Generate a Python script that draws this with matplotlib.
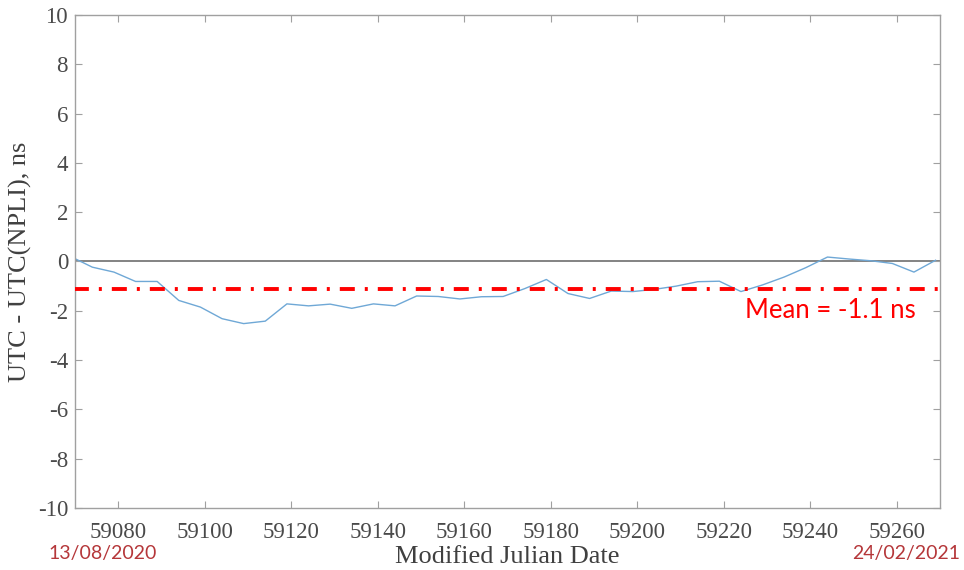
import matplotlib
matplotlib.use("Agg")
import matplotlib.pyplot as plt

plt.rcParams["axes.unicode_minus"] = False
plt.rcParams["font.family"] = ["Liberation Serif", "DejaVu Serif"]

# UTC - UTC(NPLI) from Circular T, ns
mjd = [59069, 59074, 59079, 59084, 59089, 59094, 59099, 59104, 59109, 59114,
       59119, 59124, 59129, 59134, 59139, 59144, 59149, 59154, 59159, 59164,
       59169, 59174, 59179, 59184, 59189, 59194, 59199, 59204, 59209, 59214,
       59219, 59224, 59229, 59234, 59239, 59244, 59249, 59254, 59259, 59264,
       59269]
offset = [0.2, -0.23, -0.43, -0.81, -0.81, -1.58, -1.85, -2.32, -2.52, -2.42,
          -1.72, -1.8, -1.73, -1.9, -1.72, -1.8, -1.4, -1.42, -1.52, -1.43,
          -1.42, -1.1, -0.73, -1.3, -1.5, -1.2, -1.22, -1.13, -1.0, -0.82,
          -0.8, -1.22, -0.95, -0.63, -0.25, 0.18, 0.1, 0.03, -0.08, -0.43,
          0.05]
mean_value = -1.1
xticks = list(range(59080, 59261, 20))
yticks = list(range(-10, 11, 2))
start_date = "13/08/2020"
end_date = "24/02/2021"

fig = plt.figure(figsize=(9.64, 5.70), dpi=100)
ax = fig.add_axes([0.0778, 0.1088, 0.8972, 0.8649])

ax.axhline(0, color="#6e6e6e", lw=1.2, zorder=1)
ax.plot(mjd, offset, color="#6fa8d6", lw=1.0, zorder=2)
ax.axhline(mean_value, color="#ff0000", lw=2.8, linestyle=(0.3, (3.86, 2.57, 0.77, 2.57)), zorder=3)

ax.set_xlim(59070, 59270)
ax.set_ylim(-10, 10)
serif = "Liberation Serif"
ax.set_xticks(xticks, [str(t) for t in xticks], fontfamily=serif, fontsize=16.5)
ax.set_yticks(yticks, [str(t) for t in yticks], fontfamily=serif, fontsize=16.5)

ax.tick_params(direction="in", top=True, right=True, length=5, color="#a0a0a0",
               labelcolor="#4a4a4a")
ax.tick_params(axis="x", pad=10)
ax.tick_params(axis="y", pad=5)
for s in ax.spines.values():
    s.set_color("#a0a0a0")
    s.set_linewidth(1.0)

ax.set_xlabel("Modified Julian Date", fontfamily=serif, fontsize=19, color="#404040", labelpad=2)
ax.set_ylabel("UTC - UTC(NPLI), ns", fontfamily=serif, fontsize=19, color="#404040", labelpad=4)

ax.text(59225, -2.0, "Mean = -1.1 ns", color="#ff0000", fontsize=18.5, fontfamily="Lato",
        ha="left", va="center")

fig.text(48 / 964, 1 - 553 / 570, start_date, color="#b5373a", fontsize=14, fontfamily="Lato",
         ha="left", va="center")
fig.text(960 / 964, 1 - 553 / 570, end_date, color="#b5373a", fontsize=14, fontfamily="Lato",
         ha="right", va="center")

fig.savefig("out.png", dpi=100)
